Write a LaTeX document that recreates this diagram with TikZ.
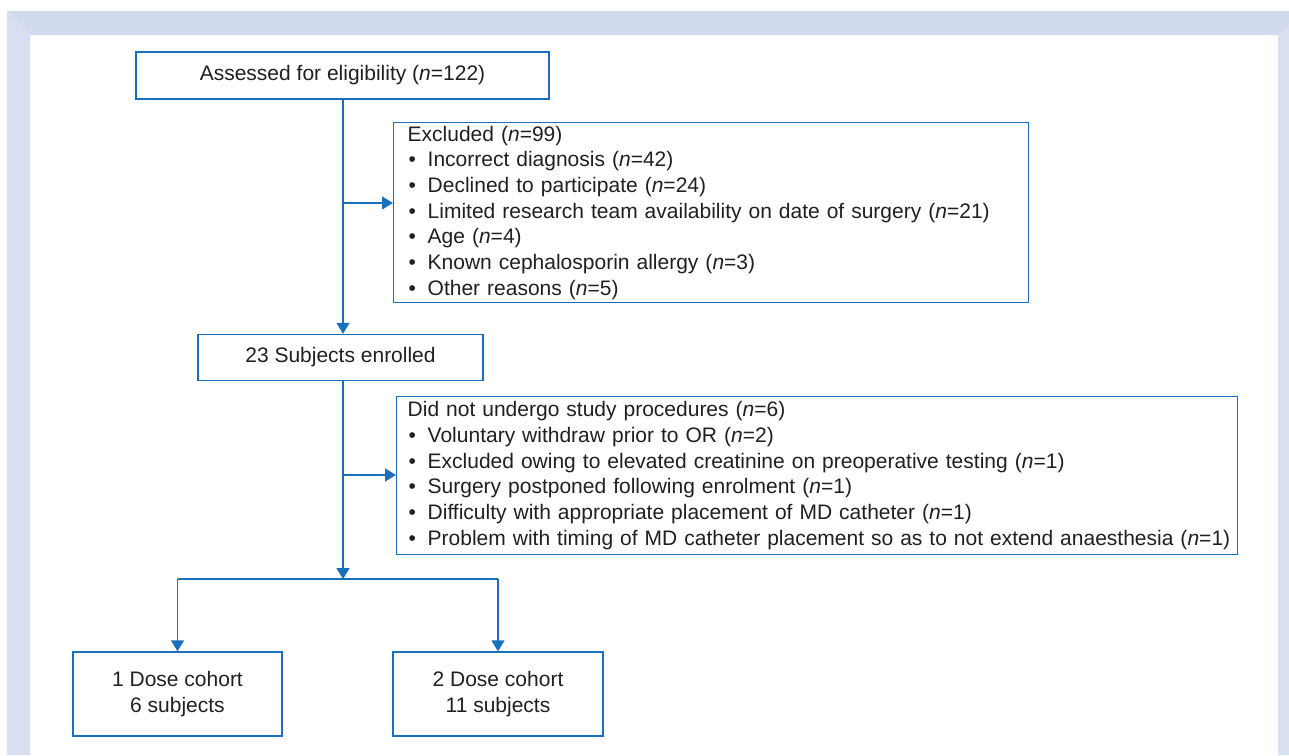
\documentclass[tikz,border=0pt]{standalone}
\usepackage{fontspec}
\setmainfont{Liberation Sans}
\usetikzlibrary{arrows.meta}
\definecolor{lineblue}{RGB}{24,112,188}
\definecolor{frametop}{RGB}{210,219,238}
\definecolor{frameside}{RGB}{215,223,240}
\definecolor{txt}{RGB}{35,31,32}
\newcommand{\nn}{\textit{n}}
\newcommand{\bul}{\makebox[20pt][l]{\hspace{1pt}•}}
\tikzset{
  box/.style={draw=lineblue, line width=1.4pt, fill=white, text=txt, font=\fontsize{21}{25.7}\selectfont, inner sep=0pt},
  listbox/.style={box, align=left, text width=#1},
  conn/.style={draw=lineblue, line width=1.4pt},
  arr/.style={conn, -{Triangle[length=11pt,width=13pt]}}
}
\begin{document}
\begin{tikzpicture}[x=1pt,y=1pt]
\useasboundingbox (0,0) rectangle (1289,-755);
% frame
\fill[frametop] (7,-11) -- (1289,-11) -- (1289,-35) -- (30,-35) -- cycle;
\fill[frameside] (7,-11) -- (30,-35) -- (30,-755) -- (7,-755) -- cycle;
\fill[frameside] (1278,-35) -- (1289,-24) -- (1289,-755) -- (1278,-755) -- cycle;
% nodes
\node[box, minimum width=413pt, minimum height=47pt] (assess) at (342.5,-75.5) {Assessed for eligibility (\nn=122)};
\node[listbox=607pt, minimum height=180pt, anchor=north west, inner xsep=14pt] (excl) at (393,-122) {%
Excluded (\nn=99)\\
\bul Incorrect diagnosis (\nn=42)\\
\bul Declined to participate (\nn=24)\\
\bul Limited research team availability on date of surgery (\nn=21)\\
\bul Age (\nn=4)\\
\bul Known cephalosporin allergy (\nn=3)\\
\bul Other reasons (\nn=5)};
\node[box, minimum width=285pt, minimum height=46pt] (enrolled) at (340.5,-357.5) {23 Subjects enrolled};
\node[listbox=819pt, minimum height=158pt, anchor=north west, inner xsep=11pt] (notund) at (396,-396) {%
Did not undergo study procedures (\nn=6)\\
\bul Voluntary withdraw prior to OR (\nn=2)\\
\bul Excluded owing to elevated creatinine on preoperative testing (\nn=1)\\
\bul Surgery postponed following enrolment (\nn=1)\\
\bul Difficulty with appropriate placement of MD catheter (\nn=1)\\
\mbox{\bul Problem with timing of MD catheter placement so as to not extend anaesthesia (\nn=1)}};
\node[box, align=center, minimum width=209pt, minimum height=84pt] (dose1) at (177.5,-694) {1 Dose cohort\\6 subjects};
\node[box, align=center, minimum width=210pt, minimum height=84pt] (dose2) at (498,-694) {2 Dose cohort\\11 subjects};
% junctions
\coordinate (j1) at (343,-203);
\coordinate (j2) at (343,-475);
\coordinate (split) at (343,-579);
\coordinate (bl) at (dose1.north |- split);
\coordinate (br) at (dose2.north |- split);
% connectors
\draw[arr] (assess.south -| j1) -- (enrolled.north -| j1);
\draw[arr] (j1) -- (excl.west |- j1);
\draw[arr] (enrolled.south -| j2) -- (split);
\draw[arr] (j2) -- (notund.west |- j2);
\draw[conn] (bl) -- (br);
\draw[arr] (bl) -- (dose1.north);
\draw[arr] (br) -- (dose2.north);
\end{tikzpicture}
\end{document}
